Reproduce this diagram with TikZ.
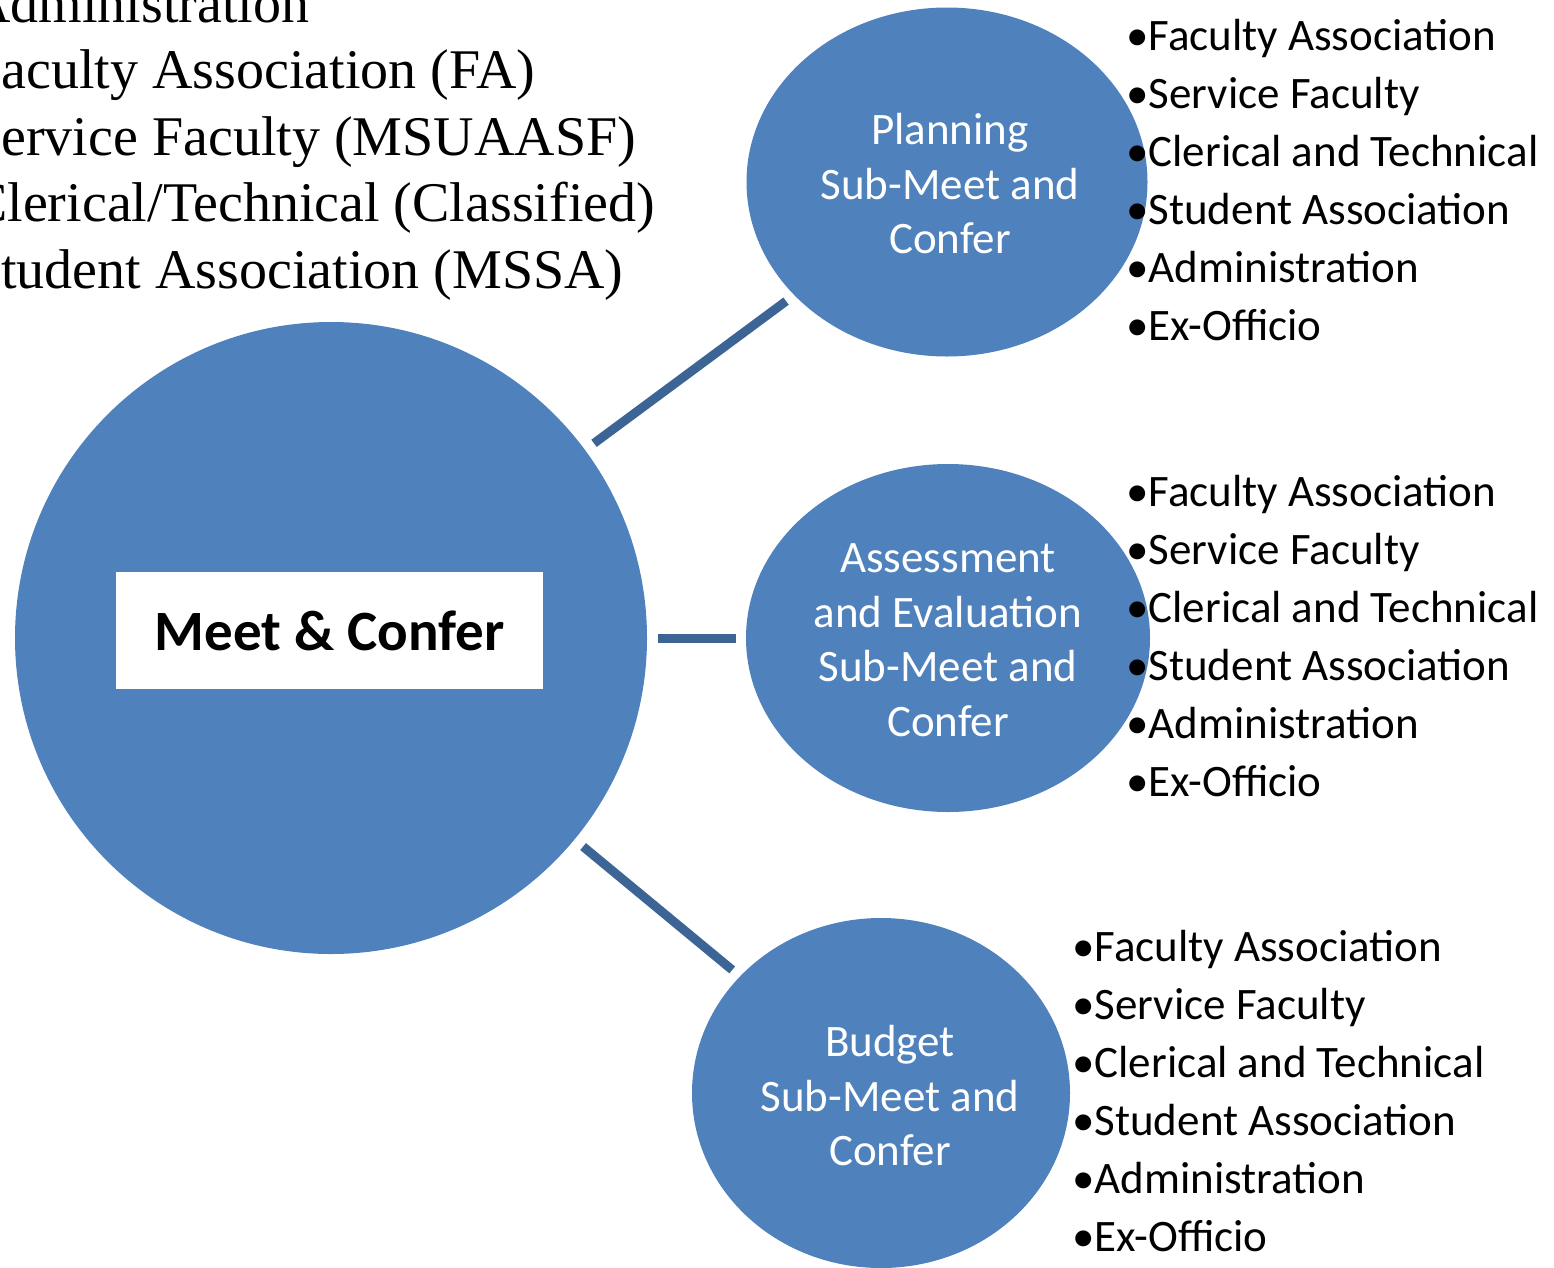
\documentclass[tikz,border=0pt]{standalone}
\usepackage{fontspec}
\setmainfont{Carlito}
\newfontfamily\serifx{Liberation Serif}
\usetikzlibrary{shapes.geometric}
\definecolor{cfill}{HTML}{4F81BD}
\definecolor{cline}{HTML}{3C6595}
\begin{document}
\begin{tikzpicture}[x=1pt,y=-1pt,
  bubble/.style={ellipse,fill=cfill,draw=none,inner sep=0pt},
  btext/.style={inner sep=0pt,text=white,align=center,font=\fontsize{45}{54.5}\selectfont},
  conn/.style={draw=cline,line width=9pt,shorten <=11pt,shorten >=10pt},
  item/.style={anchor=base west,inner sep=0pt,font=\fontsize{45}{54}\selectfont},
  toptext/.style={anchor=base west,inner sep=0pt,font=\serifx\fontsize{56}{66}\selectfont},
]
\useasboundingbox (0,0) rectangle (1554,1267);

% top-left list (cut at the left edge, as in the original)
\foreach \lbl [count=\i] in {Administration,Faculty Association (FA),Service Faculty (MSUAASF),Clerical/Technical (Classified),Student Association (MSSA)}
  \node[toptext] (t\i) at (-30,{22+66.5*(\i-1)}) {\lbl};

% main circle
\node[circle,fill=cfill,minimum size=632pt,inner sep=0pt] (main) at (331,638) {};
\node[rectangle,fill=white,minimum width=427pt,minimum height=117pt,inner sep=0pt,
      font=\bfseries\fontsize{57}{60}\selectfont] (mc) at (329.5,630.5) {Meet \& Confer};

% sub bubbles
\node[bubble,minimum width=401pt,minimum height=349pt] (plan) at (947,182) {};
\node[btext] (plantxt) at (950,184) {Planning\\Sub-Meet and\\Confer};
\node[bubble,minimum width=404pt,minimum height=348pt] (assess) at (948,638) {};
\node[btext] (assesstxt) at (948,640) {Assessment\\and Evaluation\\Sub-Meet and\\Confer};
\node[bubble,minimum width=378pt,minimum height=350pt] (budget) at (881,1093) {};
\node[btext] (budgettxt) at (890,1096) {Budget\\Sub-Meet and\\Confer};

% connectors
\draw[conn] (main) -- (plan);
\draw[conn] (main) -- (assess);
\draw[conn] (main) -- (budget);

% member lists
\foreach \lbl [count=\i] in {Faculty Association,Service Faculty,Clerical and Technical,Student Association,Administration,Ex-Officio}{
  \node[item] (pa\i) at (1126,{50+58*(\i-1)}) {•\lbl};
  \node[item] (as\i) at (1126,{506+58*(\i-1)}) {•\lbl};
  \node[item] (bu\i) at (1072,{961+58*(\i-1)}) {•\lbl};
}
\end{tikzpicture}
\end{document}
